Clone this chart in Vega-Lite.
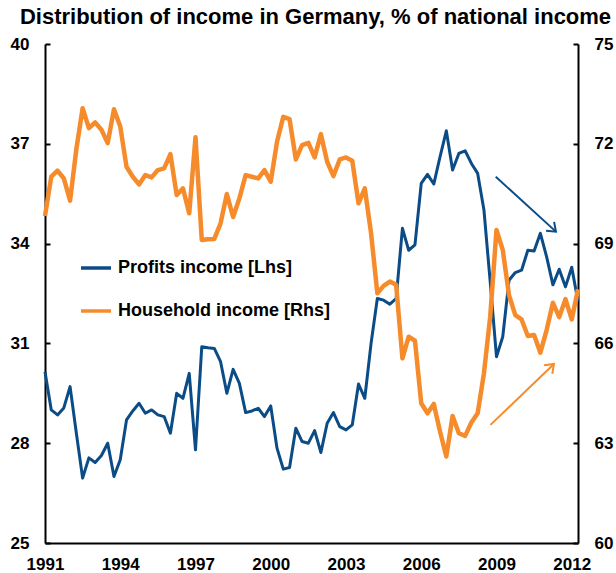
{
  "$schema": "https://vega.github.io/schema/vega-lite/v6.json",
  "width": 533,
  "height": 499,
  "autosize": {"type": "none"},
  "padding": {"left": 45, "top": 44, "right": 38, "bottom": 30},
  "background": "white",
  "config": {"view": {"stroke": null}},
  "title": {"text": "Distribution of income in Germany, % of national income", "font": "Liberation Sans", "fontSize": 22, "fontWeight": "bold", "color": "#000", "anchor": "middle", "offset": 6, "dx": 4},
  "datasets": {
    "income": [
      {"t": 1991, "p": 30.15, "h": 69.83},
      {"t": 1991.25, "p": 29.0, "h": 71.01},
      {"t": 1991.5, "p": 28.85, "h": 71.19},
      {"t": 1991.75, "p": 29.06, "h": 70.96},
      {"t": 1992, "p": 29.7, "h": 70.29},
      {"t": 1992.25, "p": 28.3, "h": 71.84},
      {"t": 1992.5, "p": 26.95, "h": 73.07},
      {"t": 1992.75, "p": 27.56, "h": 72.47},
      {"t": 1993, "p": 27.42, "h": 72.64},
      {"t": 1993.25, "p": 27.63, "h": 72.42},
      {"t": 1993.5, "p": 28.0, "h": 72.02},
      {"t": 1993.75, "p": 27.0, "h": 73.04},
      {"t": 1994, "p": 27.5, "h": 72.52},
      {"t": 1994.25, "p": 28.7, "h": 71.31},
      {"t": 1994.5, "p": 28.97, "h": 71.01},
      {"t": 1994.75, "p": 29.2, "h": 70.78},
      {"t": 1995, "p": 28.9, "h": 71.06},
      {"t": 1995.25, "p": 29.0, "h": 70.99},
      {"t": 1995.5, "p": 28.85, "h": 71.21},
      {"t": 1995.75, "p": 28.8, "h": 71.26},
      {"t": 1996, "p": 28.3, "h": 71.69},
      {"t": 1996.25, "p": 29.5, "h": 70.46},
      {"t": 1996.5, "p": 29.35, "h": 70.66},
      {"t": 1996.75, "p": 30.1, "h": 69.91},
      {"t": 1997, "p": 27.8, "h": 72.2},
      {"t": 1997.25, "p": 30.9, "h": 69.11},
      {"t": 1997.5, "p": 30.87, "h": 69.13},
      {"t": 1997.75, "p": 30.85, "h": 69.14},
      {"t": 1998, "p": 30.45, "h": 69.61},
      {"t": 1998.25, "p": 29.5, "h": 70.49},
      {"t": 1998.5, "p": 30.22, "h": 69.8},
      {"t": 1998.75, "p": 29.8, "h": 70.36},
      {"t": 1999, "p": 28.92, "h": 71.06},
      {"t": 1999.25, "p": 28.97, "h": 71.01},
      {"t": 1999.5, "p": 29.05, "h": 70.96},
      {"t": 1999.75, "p": 28.8, "h": 71.21},
      {"t": 2000, "p": 29.12, "h": 70.86},
      {"t": 2000.25, "p": 27.85, "h": 72.06},
      {"t": 2000.5, "p": 27.22, "h": 72.81},
      {"t": 2000.75, "p": 27.27, "h": 72.74},
      {"t": 2001, "p": 28.45, "h": 71.53},
      {"t": 2001.25, "p": 28.05, "h": 71.96},
      {"t": 2001.5, "p": 28.0, "h": 72.03},
      {"t": 2001.75, "p": 28.38, "h": 71.59},
      {"t": 2002, "p": 27.72, "h": 72.29},
      {"t": 2002.25, "p": 28.6, "h": 71.46},
      {"t": 2002.5, "p": 28.92, "h": 71.03},
      {"t": 2002.75, "p": 28.5, "h": 71.53},
      {"t": 2003, "p": 28.4, "h": 71.59},
      {"t": 2003.25, "p": 28.55, "h": 71.49},
      {"t": 2003.5, "p": 29.78, "h": 70.21},
      {"t": 2003.75, "p": 29.35, "h": 70.66},
      {"t": 2004, "p": 31.0, "h": 69.31},
      {"t": 2004.25, "p": 32.35, "h": 67.51},
      {"t": 2004.5, "p": 32.3, "h": 67.73},
      {"t": 2004.75, "p": 32.18, "h": 67.86},
      {"t": 2005, "p": 32.35, "h": 67.76},
      {"t": 2005.25, "p": 34.46, "h": 65.55},
      {"t": 2005.5, "p": 33.8, "h": 66.2},
      {"t": 2005.75, "p": 33.96, "h": 66.08},
      {"t": 2006, "p": 35.81, "h": 64.2},
      {"t": 2006.25, "p": 36.08, "h": 63.9},
      {"t": 2006.5, "p": 35.79, "h": 64.18},
      {"t": 2006.75, "p": 36.61, "h": 63.35},
      {"t": 2007, "p": 37.39, "h": 62.6},
      {"t": 2007.25, "p": 36.21, "h": 63.82},
      {"t": 2007.5, "p": 36.71, "h": 63.3},
      {"t": 2007.75, "p": 36.79, "h": 63.22},
      {"t": 2008, "p": 36.41, "h": 63.62},
      {"t": 2008.25, "p": 36.11, "h": 63.9},
      {"t": 2008.5, "p": 35.01, "h": 65.1},
      {"t": 2008.75, "p": 32.85, "h": 66.8},
      {"t": 2009, "p": 30.6, "h": 69.41},
      {"t": 2009.25, "p": 31.2, "h": 68.81},
      {"t": 2009.5, "p": 32.9, "h": 67.45},
      {"t": 2009.75, "p": 33.13, "h": 66.85},
      {"t": 2010, "p": 33.2, "h": 66.72},
      {"t": 2010.25, "p": 33.8, "h": 66.22},
      {"t": 2010.5, "p": 33.78, "h": 66.25},
      {"t": 2010.75, "p": 34.31, "h": 65.72},
      {"t": 2011, "p": 33.6, "h": 66.4},
      {"t": 2011.25, "p": 32.76, "h": 67.22},
      {"t": 2011.5, "p": 33.23, "h": 66.79},
      {"t": 2011.75, "p": 32.7, "h": 67.33},
      {"t": 2012, "p": 33.29, "h": 66.72},
      {"t": 2012.25, "p": 32.26, "h": 67.63}
    ],
    "arrowBlue": [{"x": 2008.97, "y": 36.01, "x2": 2011.37, "y2": 34.36}],
    "arrowOrange": [{"x": 2008.76, "y": 63.55, "x2": 2011.29, "y2": 65.38}]
  },
  "layer": [
    {
      "layer": [
        {
          "data": {"name": "income"},
          "mark": {"type": "line", "strokeWidth": 3, "strokeJoin": "round"},
          "encoding": {
            "x": {"field": "t", "type": "quantitative", "scale": {"domain": [1991, 2012.25], "nice": false, "zero": false},
              "axis": {"title": null, "values": [1991, 1994, 1997, 2000, 2003, 2006, 2009, 2012], "format": "d", "ticks": false, "grid": false, "labelFlush": false, "labelOverlap": false, "labelBound": false, "labelPadding": 13, "labelFont": "Liberation Sans", "labelFontSize": 17, "labelFontWeight": "bold", "labelColor": "#000", "domainColor": "#000", "domainWidth": 2}},
            "y": {"field": "p", "type": "quantitative", "scale": {"domain": [25, 40], "nice": false, "zero": false},
              "axis": {"title": null, "orient": "left", "values": [25, 28, 31, 34, 37, 40], "grid": false, "tickSize": -5, "tickWidth": 2, "tickColor": "#000", "labelPadding": 21, "labelOverlap": false, "labelFlush": false, "labelFont": "Liberation Sans", "labelFontSize": 17, "labelFontWeight": "bold", "labelColor": "#000", "domainColor": "#000", "domainWidth": 2}},
            "color": {"datum": "Profits income [Lhs]",
              "scale": {"domain": ["Profits income [Lhs]", "Household income [Rhs]"], "range": ["#0b4c86", "#f68b2b"]},
              "legend": {"title": null, "orient": "none", "legendX": 34, "legendY": 207, "padding": 0, "symbolType": "stroke", "symbolSize": 900, "symbolStrokeWidth": 3.5, "labelFont": "Liberation Sans", "labelFontSize": 18, "labelFontWeight": "bold", "labelColor": "#000", "labelOffset": 5, "rowPadding": 17, "labelLimit": 400}}
          }
        },
        {
          "data": {"name": "arrowBlue"},
          "mark": {"type": "rule", "color": "#0b4c86", "strokeWidth": 2},
          "encoding": {
            "x": {"field": "x", "type": "quantitative", "scale": {"domain": [1991, 2012.25], "nice": false, "zero": false}, "axis": {"title": null}},
            "x2": {"field": "x2"},
            "y": {"field": "y", "type": "quantitative", "scale": {"domain": [25, 40], "nice": false, "zero": false}, "axis": {"title": null}},
            "y2": {"field": "y2"}
          }
        },
        {
          "data": {"name": "arrowBlue"},
          "mark": {"type": "point", "shape": "M-1,-0.75L0,0L-1,0.75", "angle": 42.5, "size": 250, "filled": false, "stroke": "#0b4c86", "strokeWidth": 2, "opacity": 1},
          "encoding": {
            "x": {"field": "x2", "type": "quantitative", "scale": {"domain": [1991, 2012.25], "nice": false, "zero": false}, "axis": {"title": null}},
            "y": {"field": "y2", "type": "quantitative", "scale": {"domain": [25, 40], "nice": false, "zero": false}, "axis": {"title": null}}
          }
        }
      ]
    },
    {
      "layer": [
        {
          "data": {"name": "income"},
          "mark": {"type": "line", "strokeWidth": 4.5, "strokeJoin": "round"},
          "encoding": {
            "x": {"field": "t", "type": "quantitative", "scale": {"domain": [1991, 2012.25], "nice": false, "zero": false}, "axis": {"title": null}},
            "y": {"field": "h", "type": "quantitative", "scale": {"domain": [60, 75], "nice": false, "zero": false},
              "axis": {"title": null, "orient": "right", "values": [60, 63, 66, 69, 72, 75], "grid": false, "tickSize": -5, "tickWidth": 2, "tickColor": "#000", "labelPadding": 21, "labelOverlap": false, "labelFlush": false, "labelFont": "Liberation Sans", "labelFontSize": 17, "labelFontWeight": "bold", "labelColor": "#000", "domainColor": "#000", "domainWidth": 2}},
            "color": {"datum": "Household income [Rhs]"}
          }
        },
        {
          "data": {"name": "arrowOrange"},
          "mark": {"type": "rule", "color": "#f68b2b", "strokeWidth": 2},
          "encoding": {
            "x": {"field": "x", "type": "quantitative", "scale": {"domain": [1991, 2012.25], "nice": false, "zero": false}, "axis": {"title": null}},
            "x2": {"field": "x2"},
            "y": {"field": "y", "type": "quantitative", "scale": {"domain": [60, 75], "nice": false, "zero": false}, "axis": {"title": null}},
            "y2": {"field": "y2"}
          }
        },
        {
          "data": {"name": "arrowOrange"},
          "mark": {"type": "point", "shape": "M-1,-0.75L0,0L-1,0.75", "angle": -44, "size": 250, "filled": false, "stroke": "#f68b2b", "strokeWidth": 2, "opacity": 1},
          "encoding": {
            "x": {"field": "x2", "type": "quantitative", "scale": {"domain": [1991, 2012.25], "nice": false, "zero": false}, "axis": {"title": null}},
            "y": {"field": "y2", "type": "quantitative", "scale": {"domain": [60, 75], "nice": false, "zero": false}, "axis": {"title": null}}
          }
        }
      ]
    }
  ],
  "resolve": {"scale": {"y": "independent"}}
}
